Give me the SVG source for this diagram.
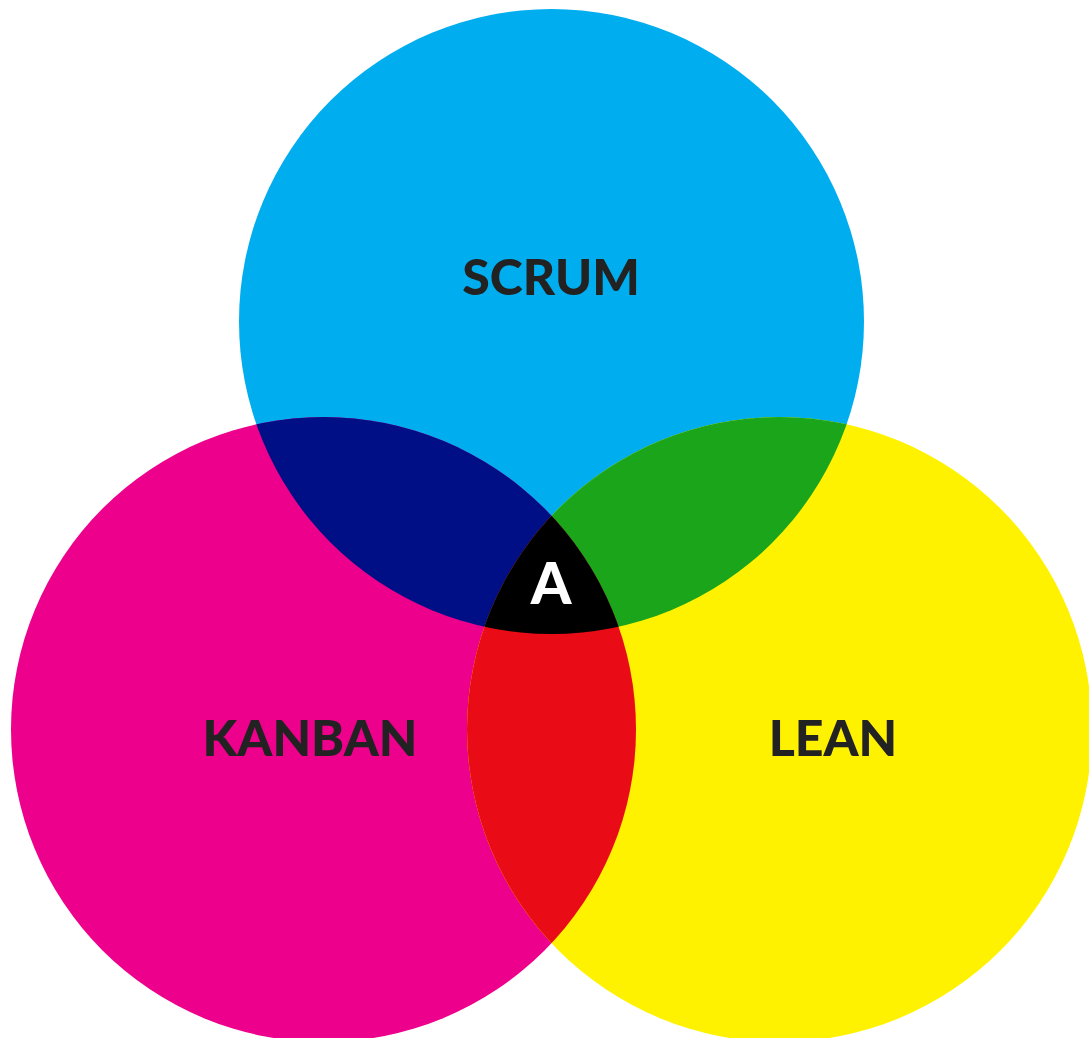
<svg xmlns="http://www.w3.org/2000/svg" width="1089" height="1038" viewBox="0 0 1089 1038">
  <style>
    .lbl { font-family: Lato, "Open Sans", "Liberation Sans", sans-serif; font-weight: 900; font-size: 50px; fill: #222222; text-anchor: middle; letter-spacing: 0px; }
    .a { font-family: Lato, "Open Sans", "Liberation Sans", sans-serif; font-weight: 900; font-size: 58px; fill: #ffffff; text-anchor: middle; }
  </style>
  <defs>
    <circle id="cS" cx="551.5" cy="321.5" r="312.5"/>
    <circle id="cK" cx="323.5" cy="729.5" r="312.5"/>
    <circle id="cL" cx="779.5" cy="729.5" r="312.5"/>
    <clipPath id="clipS"><use href="#cS"/></clipPath>
    <clipPath id="clipK"><use href="#cK"/></clipPath>
  </defs>
  <rect width="1089" height="1038" fill="#ffffff"/>
  <g id="scrum">
    <use href="#cS" fill="#00ADEF"/>
  </g>
  <g id="kanban">
    <use href="#cK" fill="#EC008C"/>
  </g>
  <g id="lean">
    <use href="#cL" fill="#FFF200"/>
  </g>
  <g id="overlaps">
    <use href="#cK" fill="#000F85" clip-path="url(#clipS)"/>
    <use href="#cL" fill="#1AA51A" clip-path="url(#clipS)"/>
    <use href="#cL" fill="#E90C17" clip-path="url(#clipK)"/>
    <g clip-path="url(#clipS)">
      <use href="#cL" fill="#000000" clip-path="url(#clipK)"/>
    </g>
  </g>
  <g id="labels">
    <text class="lbl" x="551" y="295">SCRUM</text>
    <text class="lbl" x="310" y="756">KANBAN</text>
    <text class="lbl" x="833" y="756">LEAN</text>
    <text class="a" x="551" y="604">A</text>
  </g>
</svg>
